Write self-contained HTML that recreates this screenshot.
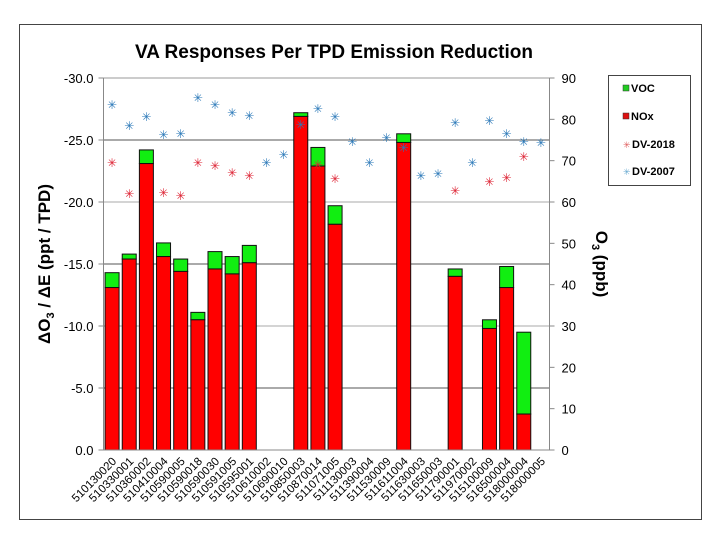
<!DOCTYPE html>
<html><head><meta charset="utf-8"><style>
html,body{margin:0;padding:0;background:#fff;}
svg{display:block;font-family:"Liberation Sans",Arial,sans-serif;}
</style></head><body>
<svg id="chart" width="720" height="540" viewBox="0 0 720 540">
<rect x="19.5" y="24.5" width="682" height="495" fill="none" stroke="#444" stroke-width="1"/>
<text x="334" y="58" text-anchor="middle" font-size="19" font-weight="bold" fill="#000">VA Responses Per TPD Emission Reduction</text>
<g id="grid"></g>
<g id="bars"></g>
<g id="markers"></g>
<g id="axes"></g>
<text transform="translate(50,264) rotate(-90)" text-anchor="middle" font-size="17" font-weight="bold">ΔO<tspan font-size="11" dy="4">3</tspan><tspan dy="-4"> / ΔE (ppt / TPD)</tspan></text>
<text transform="translate(596,264) rotate(90)" text-anchor="middle" font-size="17" font-weight="bold">O<tspan font-size="11" dy="4">3</tspan><tspan dy="-4"> (ppb)</tspan></text>
<g>
<rect x="608.5" y="75.5" width="82" height="110" fill="#fff" stroke="#444"/>
<rect x="623" y="85" width="6" height="6" fill="#22cc22" stroke="#333" stroke-width="0.5"/>
<text x="631" y="92" font-size="11" font-weight="bold">VOC</text>
<rect x="623" y="113" width="6" height="6" fill="#dd1111" stroke="#333" stroke-width="0.5"/>
<text x="631" y="120" font-size="11" font-weight="bold">NOx</text>
<text x="623" y="148" font-size="9" fill="#e06060">✳</text>
<text x="632" y="148" font-size="11" font-weight="bold">DV-2018</text>
<text x="623" y="175" font-size="9" fill="#6aaad0">✳</text>
<text x="632" y="175" font-size="11" font-weight="bold">DV-2007</text>
</g>
</svg>
<script>
const categories=["510130020","510330001","510360002","510410004","510590005","510590018","510590030","510591005","510595001","510610002","510690010","510850003","510870014","511071005","511130003","511390004","511530009","511611004","511630003","511650003","511790001","511970002","515100009","516500004","518000004","518000005"];
const noxValues=[13.1,15.4,23.1,15.6,14.4,10.5,14.6,14.2,15.1,null,null,26.9,22.9,18.2,null,null,null,24.8,null,null,14.0,null,9.8,13.1,2.9,null];
const totalValues=[14.3,15.8,24.2,16.7,15.4,11.1,16.0,15.6,16.5,null,null,27.2,24.4,19.7,null,null,null,25.5,null,null,14.6,null,10.5,14.8,9.5,null];
const dv2007=[83.5,78.4,80.6,76.2,76.5,85.2,83.5,81.5,80.8,69.4,71.4,78.6,82.5,80.6,74.5,69.4,75.5,73.1,66.3,66.8,79.1,69.4,79.6,76.5,74.5,74.3];
const dv2018=[69.4,61.9,null,62.2,61.5,69.4,68.7,67.0,66.3,null,null,null,69.0,65.6,null,null,null,null,null,null,62.7,null,64.8,65.8,70.9,null];
const leftTicks=["0.0","-5.0","-10.0","-15.0","-20.0","-25.0","-30.0"];
const rightTicks=["0","10","20","30","40","50","60","70","80","90"];

const NS="http://www.w3.org/2000/svg";
const X0=103.5,X1=549.5,Y0=450,Y1=78;
const band=(X1-X0)/categories.length;
const yL=v=>Y0-(v/30)*(Y0-Y1);
const yR=v=>Y0-(v/90)*(Y0-Y1);
const xC=i=>X0+band*(i+0.5);
function mk(tag,attrs,parent){const e=document.createElementNS(NS,tag);for(const k in attrs)e.setAttribute(k,attrs[k]);parent.appendChild(e);return e;}
const gridG=document.getElementById('grid'),barsG=document.getElementById('bars'),markersG=document.getElementById('markers'),axesG=document.getElementById('axes');

leftTicks.forEach((t,i)=>{
  const v=i*5,y=yL(v);
  if(i>0){const g=mk('line',{x1:X0,x2:X1,y1:y,y2:y,stroke:i%2?'#555':'#aaa','stroke-width':1},gridG);
  
  }
  const tk=mk('line',{x1:X0-5,x2:X0,y1:y,y2:y,stroke:'#888'},axesG);
  
  
  const tx=mk('text',{x:X0-10,y:y+5,'text-anchor':'end','font-size':13},axesG);
  tx.textContent=t;
  
  
});
rightTicks.forEach((t,i)=>{
  const y=yR(i*10);
  const tk=mk('line',{x1:X1,x2:X1+5,y1:y,y2:y,stroke:'#888'},axesG);
  
  
  const tx=mk('text',{x:X1+12,y:y+5,'font-size':13},axesG);
  tx.textContent=t;
  
  
});
const plotTopLine=mk('line',{x1:X0,x2:X1,y1:Y1,y2:Y1,stroke:'#999'},axesG);


[['left-axis',X0,X0,Y1,Y0],['right-axis',X1,X1,Y1,Y0],['x-axis',X0,X1,Y0,Y0]].forEach(a=>{
  const l=mk('line',{x1:a[1],x2:a[2],y1:a[3],y2:a[4],stroke:'#888'},axesG);
  
  
});
const bw=14;
categories.forEach((c,i)=>{
  const x=xC(i);
  if(totalValues[i]!=null){
    const r1=mk('rect',{x:x-bw/2,y:yL(totalValues[i]),width:bw,height:yL(noxValues[i])-yL(totalValues[i]),fill:'#11ee11',stroke:'#111','stroke-width':1},barsG);
    
    
    const r2=mk('rect',{x:x-bw/2,y:yL(noxValues[i]),width:bw,height:Y0-yL(noxValues[i]),fill:'#ff0000',stroke:'#111','stroke-width':1},barsG);
    
    
  }
  const lb=mk('text',{x:0,y:0,'text-anchor':'end','font-size':11.5,transform:`translate(${x+5},${Y0+12}) rotate(-45)`},axesG);
  lb.textContent=c;
  
  
});
function star(x,y,col,name){
  const t=mk('text',{x:x,y:y+4,'text-anchor':'middle','font-size':12,fill:col},markersG);
  t.textContent='✳';
  
  
}
dv2018.forEach((v,i)=>{if(v!=null)star(xC(i),yR(v),'#dd2233','point-dv2018');});
dv2007.forEach((v,i)=>{if(v!=null)star(xC(i),yR(v),'#2a78b8','point-dv2007');});
</script>
</body></html>
